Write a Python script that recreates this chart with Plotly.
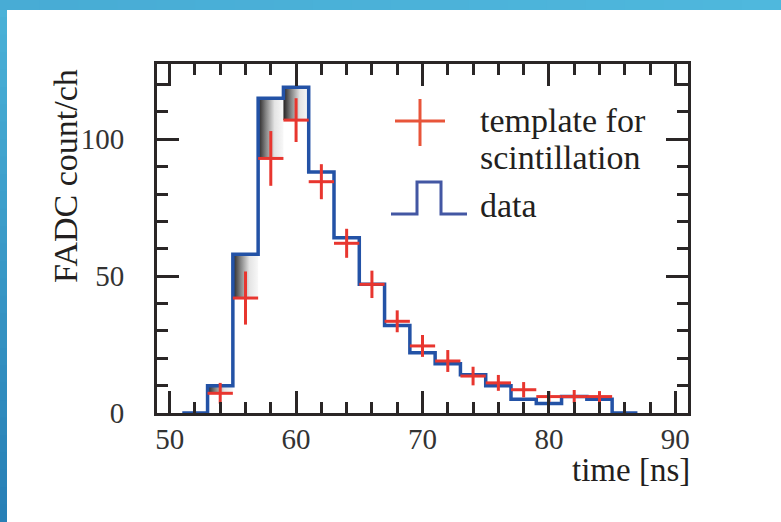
import plotly.graph_objects as go

# ---------------- data ----------------
bin_width = 2
data_centers = [52, 54, 56, 58, 60, 62, 64, 66, 68, 70, 72, 74, 76, 78, 80, 82, 84, 86]
data_counts = [0, 10, 58, 115, 119, 88, 64, 47, 32, 22, 18, 14, 10, 5, 3.5, 6, 5, 0]

tmpl_centers = [54, 56, 58, 60, 62, 64, 66, 68, 70, 72, 74, 76, 78, 80, 82, 84]
tmpl_values = [7.2, 42, 93, 107, 84.5, 62, 47, 33.5, 24.5, 19, 13.5, 11, 8.5, 6, 6, 6]
tmpl_errors = [3.8, 9.7, 10, 8, 6.4, 5.3, 5, 4, 4, 4, 3.4, 2.9, 2.8, 2, 2.4, 2]

shaded_centers = [54, 56, 58, 60]

x_tick_start, x_tick_step, x_minor_step = 50, 10, 2
y_tick_start, y_tick_step, y_minor_step = 0, 50, 10

legend_labels = ["template for", "scintillation", "data"]
x_title = "time [ns]"
y_title = "FADC count/ch"

# ---------------- styles ----------------
W, H = 781, 522
ML, MR, MT, MB = 157, 93, 64, 109
PW, PH = W - ML - MR, H - MT - MB
AX = "#2a2626"
BLUE = "#2352a6"
RED = "#e8362f"
LEG_RED = "#e8553a"
LEG_BLUE = "#4357a3"
FONT = "Liberation Serif, DejaVu Serif, serif"
TXT = "#231f20"


def px(x):
    return (x - ML) / PW


def py(y):
    return (H - MB - y) / PH


fig = go.Figure()

# gradient shading between template and data in rising bins
for c in shaded_centers:
    d = data_counts[data_centers.index(c)]
    t = tmpl_values[tmpl_centers.index(c)]
    x0, x1 = c - bin_width / 2, c + bin_width / 2
    fig.add_trace(go.Scatter(
        x=[x0, x1, x1, x0, x0], y=[t, t, d, d, t],
        mode="lines", line=dict(width=0), fill="toself",
        fillgradient=dict(type="horizontal", colorscale=[
            [0, "rgb(35,33,33)"], [0.3, "rgb(130,130,130)"],
            [0.65, "rgb(228,228,228)"], [1, "rgb(248,248,248)"]]),
        hoverinfo="skip", showlegend=False))

# data histogram (step)
edges_left = [c - bin_width / 2 for c in data_centers]
step_x = edges_left + [data_centers[-1] + bin_width / 2]
step_y = data_counts + [data_counts[-1]]
fig.add_trace(go.Scatter(
    x=step_x, y=step_y, mode="lines", line_shape="hv",
    line=dict(color=BLUE, width=3.5), showlegend=False))

# template with error crosses
fig.add_trace(go.Scatter(
    x=tmpl_centers, y=tmpl_values, mode="markers",
    marker=dict(size=1, color=RED),
    error_x=dict(type="constant", value=bin_width / 2, color=RED, thickness=3, width=0),
    error_y=dict(type="data", array=tmpl_errors, color=RED, thickness=3, width=0),
    showlegend=False))

# invisible trace that carries the mirrored (top/right) axes
fig.add_trace(go.Scatter(
    x=step_x, y=step_y, xaxis="x2", yaxis="y2", mode="lines",
    line=dict(width=0), opacity=0, hoverinfo="skip", showlegend=False))

shapes = []
# decorative blue border (top and left)
n = 30
for i in range(n):
    f = i / (n - 1)
    r = int(75 + (40 - 75) * f)
    g = int(178 + (128 - 178) * f)
    b = int(216 + (182 - 216) * f)
    y0p = i * H / n
    y1p = (i + 1) * H / n + 1
    shapes.append(dict(type="rect", xref="paper", yref="paper", layer="above",
                       x0=px(0), x1=px(7), y0=py(min(y1p, H)), y1=py(y0p),
                       fillcolor=f"rgb({r},{g},{b})", line=dict(width=0)))
m = 20
for i in range(m):
    f = i / (m - 1)
    r = int(72 + (79 - 72) * f)
    g = int(172 + (184 - 172) * f)
    b = int(213 + (221 - 213) * f)
    shapes.append(dict(type="rect", xref="paper", yref="paper", layer="above",
                       x0=px(i * W / m), x1=px((i + 1) * W / m + 1), y0=py(10), y1=py(0),
                       fillcolor=f"rgb({r},{g},{b})", line=dict(width=0)))

# legend symbols
shapes.append(dict(type="line", xref="paper", yref="paper", x0=px(395), x1=px(445),
                   y0=py(121), y1=py(121), line=dict(color=LEG_RED, width=3)))
shapes.append(dict(type="line", xref="paper", yref="paper", x0=px(420), x1=px(420),
                   y0=py(99), y1=py(146), line=dict(color=LEG_RED, width=3)))
shapes.append(dict(type="path", xref="paper", yref="paper",
                   path=(f"M {px(391)} {py(214)} L {px(417)} {py(214)} L {px(417)} {py(182)} "
                         f"L {px(441)} {py(182)} L {px(441)} {py(214)} L {px(467)} {py(214)}"),
                   line=dict(color=LEG_BLUE, width=3)))


def note(text, x, y, xanchor="left", angle=0, size=34):
    return dict(text=text, xref="paper", yref="paper", x=x, y=y,
                xanchor=xanchor, yanchor="middle", showarrow=False, textangle=angle,
                font=dict(family=FONT, size=size, color=TXT))


annotations = [
    note(legend_labels[0], px(478), py(120)),
    note(legend_labels[1], px(478), py(157)),
    note(legend_labels[2], px(478), py(205)),
    note(x_title, px(692), py(470), xanchor="right", size=33),
    note(y_title, px(65), py(176), xanchor="center", angle=-90),
]

axis_common = dict(
    showline=True, linecolor=AX, linewidth=3, mirror=False,
    ticks="inside", ticklen=22, tickwidth=3, tickcolor=AX,
    showgrid=False, zeroline=False, tickmode="linear",
    tickfont=dict(family=FONT, size=29, color="#333333"),
)
xticks = dict(tick0=x_tick_start, dtick=x_tick_step,
              minor=dict(dtick=x_minor_step, tick0=x_tick_start, ticks="inside", ticklen=11,
                         tickwidth=3, tickcolor=AX, showgrid=False))
yticks = dict(tick0=y_tick_start, dtick=y_tick_step,
              minor=dict(dtick=y_minor_step, tick0=y_tick_start, ticks="inside", ticklen=11,
                         tickwidth=3, tickcolor=AX, showgrid=False))

fig.update_layout(
    width=W, height=H, autosize=False,
    margin=dict(l=ML, r=MR, t=MT, b=MB, pad=0),
    paper_bgcolor="white", plot_bgcolor="white",
    shapes=shapes, annotations=annotations,
    xaxis=dict(range=[49, 91], ticklabelstandoff=-2, side="bottom", **xticks, **axis_common),
    yaxis=dict(range=[0, 127.5], ticklabelstandoff=24, side="left", **yticks, **axis_common),
    xaxis2=dict(range=[49, 91], overlaying="x", side="top", anchor="y2",
                showticklabels=False, **xticks, **axis_common),
    yaxis2=dict(range=[0, 127.5], overlaying="y", side="right", anchor="x2",
                showticklabels=False, **yticks, **axis_common),
    showlegend=False,
)

fig.write_html("out.html")
